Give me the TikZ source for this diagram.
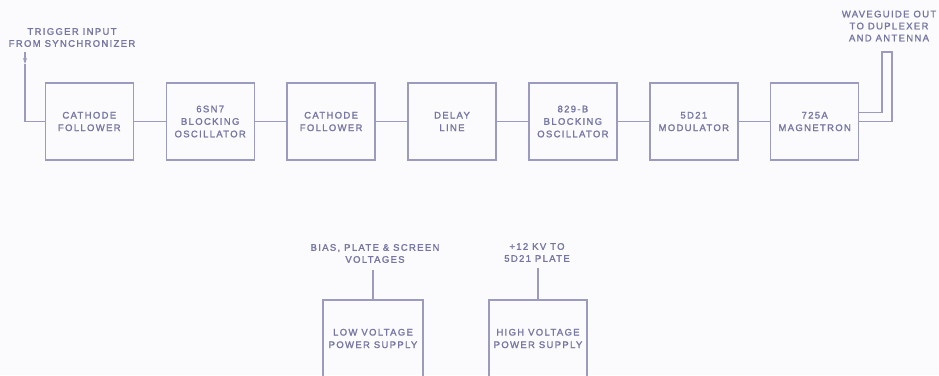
\documentclass[tikz,border=0pt]{standalone}
\usepackage{fontspec}
\usepackage{tikz}
\usetikzlibrary{matrix,arrows.meta}
\newfontfamily\lettering[LetterSpace=14,FakeBold=1.6]{Liberation Sans}

\definecolor{inkline}{RGB}{155,155,192}
\definecolor{inktext}{RGB}{118,118,165}
\definecolor{paper}{RGB}{251,251,253}

\tikzset{
	blk/.style={draw=inkline, line width=1.4pt, minimum width=88pt, minimum height=77pt,
		align=center, inner sep=2pt, text=inktext, font=\lettering\fontsize{9.5}{12.5}\selectfont},
	wire/.style={draw=inkline, line width=1.4pt},
	lbl/.style={align=center, inner sep=0pt, text=inktext, font=\lettering\fontsize{9.5}{12}\selectfont}
}

\begin{document}
\begin{tikzpicture}[x=1pt,y=-1pt]
	\useasboundingbox (0,0) rectangle (939,375);
	\clip (0,0) rectangle (939,375);
	\fill[paper] (0,0) rectangle (939,375);

	% transmitter chain
	\matrix (chain) [column sep=31.5pt] at (452,121.5)
	{
		\node[blk] (cf1) {CATHODE\\FOLLOWER}; &
		\node[blk] (bo1) {6SN7\\BLOCKING\\OSCILLATOR}; &
		\node[blk] (cf2) {CATHODE\\FOLLOWER}; &
		\node[blk] (dly) {DELAY\\LINE}; &
		\node[blk] (bo2) {829-B\\BLOCKING\\OSCILLATOR}; &
		\node[blk] (mod) {5D21\\MODULATOR}; &
		\node[blk] (mag) {725A\\MAGNETRON}; \\
	};
	\path[wire]
	(cf1) edge (bo1)
	(bo1) edge (cf2)
	(cf2) edge (dly)
	(dly) edge (bo2)
	(bo2) edge (mod)
	(mod) edge (mag);

	% trigger in
	\node[lbl] (trig) at (72,37.5) {TRIGGER INPUT\\FROM SYNCHRONIZER};
	\coordinate (trigtop) at (25,52);
	\coordinate (trigtip) at (25,64);
	\draw[wire, -{Stealth[length=6pt,width=4pt]}] (trigtop) -- (trigtip);
	\draw[wire] (trigtip) |- (cf1.west);

	% waveguide out
	\node[lbl] (wgout) at (889,26) {WAVEGUIDE OUT\\TO DUPLEXER\\AND ANTENNA};
	\coordinate (wgo) at (892,52);
	\coordinate (wgi) at (882,52);
	\draw[wire] (mag.east) -| (wgo) -- (wgi) |- ([yshift=9pt]mag.east);

	% power supplies
	\node[blk, minimum width=100pt] (lvps) at (373,338.5) {LOW VOLTAGE\\POWER SUPPLY};
	\node[blk, minimum width=98pt] (hvps) at (538,338.5) {HIGH VOLTAGE\\POWER SUPPLY};
	\node[lbl] (lvout) at (375,253.5) {BIAS, PLATE \& SCREEN\\VOLTAGES};
	\node[lbl] (hvout) at (537,252.5) {+12 KV TO\\5D21 PLATE};
	\coordinate (lvend) at (373,270);
	\coordinate (hvend) at (538,268);
	\draw[wire] (lvps.north) -- (lvend);
	\draw[wire] (hvps.north) -- (hvend);
\end{tikzpicture}
\end{document}
